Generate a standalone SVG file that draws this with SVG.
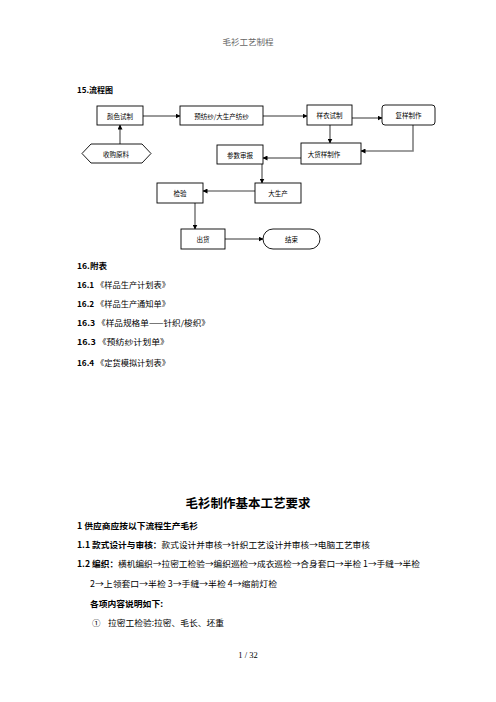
<svg xmlns="http://www.w3.org/2000/svg" width="496" height="702" viewBox="0 0 496 702">
<defs>
<style>
.cjk{font-family:"Noto Sans CJK SC","Noto Sans",sans-serif;fill:#000}
.b{font-weight:bold}
.node{fill:#fff;stroke:#000;stroke-width:0.9}
.nt{font-family:"Noto Sans CJK SC",sans-serif;font-size:6.5px;text-anchor:middle;dominant-baseline:central;fill:#000}
.cb{fill:none;stroke:#000;stroke-width:0.8}
.cg{fill:none;stroke:#7f7f7f;stroke-width:1.6}
</style>
<marker id="ab" viewBox="0 0 10 10" refX="9" refY="5" markerWidth="5" markerHeight="5" markerUnits="userSpaceOnUse" orient="auto"><path d="M0,0L10,5L0,10z" fill="#000"/></marker>
<marker id="ag" viewBox="0 0 10 10" refX="9" refY="5" markerWidth="5" markerHeight="5" markerUnits="userSpaceOnUse" orient="auto"><path d="M0,0L10,5L0,10z" fill="#000"/></marker>
</defs>
<rect width="496" height="702" fill="#fff"/>
<text x="248" y="45" class="cjk" font-size="8.5" text-anchor="middle" style="fill:#666">毛衫工艺制程</text>
<text x="77" y="93" class="cjk b" font-size="8">15.流程图</text>

<g id="connectors">
<path class="cb" d="M143,116H180" marker-end="url(#ab)"/>
<path class="cb" d="M263,116H307" marker-end="url(#ab)"/>
<path class="cb" d="M352,118H382" marker-end="url(#ab)"/>
<path class="cg" d="M330,125V143" marker-end="url(#ag)"/>
<path class="cg" d="M413,125V151H361" marker-end="url(#ag)"/>
<path class="cb" d="M301,158H263" marker-end="url(#ab)"/>
<path class="cb" d="M262,164V183" marker-end="url(#ab)"/>
<path class="cg" d="M120,144V125" marker-end="url(#ag)"/>
<path class="cg" d="M255,191H203" marker-end="url(#ag)"/>
<path class="cg" d="M195,203V229" marker-end="url(#ag)"/>
<path class="cb" d="M225,239H263" marker-end="url(#ab)"/>
</g>

<g id="n1"><rect class="node" x="97" y="106" width="46" height="19"/><text class="nt" x="120" y="115.5">颜色试制</text></g>
<g id="n2"><rect class="node" x="180" y="106" width="83" height="19"/><text class="nt" x="221.5" y="115.5">预纺纱/大生产纺纱</text></g>
<g id="n3"><rect class="node" x="307" y="105" width="45" height="20"/><text class="nt" x="329.5" y="115">样衣试制</text></g>
<g id="n4"><rect class="node" x="382" y="105" width="53" height="20" rx="3"/><text class="nt" x="408.5" y="115">复样制作</text></g>
<g id="n5"><rect class="node" x="301" y="143" width="60" height="21"/><text class="nt" x="324" y="153.5">大货样制作</text></g>
<g id="n6"><rect class="node" x="217" y="145" width="46" height="19"/><text class="nt" x="240" y="154.5">参数审报</text></g>
<g id="n7"><polygon class="node" points="82,153.5 91,144 142,144 151,153.5 142,163 91,163"/><text class="nt" x="116" y="153.5">收购原料</text></g>
<g id="n8"><rect class="node" x="157" y="183" width="46" height="20"/><text class="nt" x="180" y="193">检验</text></g>
<g id="n9"><rect class="node" x="255" y="183" width="46" height="20"/><text class="nt" x="278" y="193">大生产</text></g>
<g id="n10"><rect class="node" x="181" y="229" width="44" height="20"/><text class="nt" x="203" y="239">出货</text></g>
<g id="n11"><rect class="node" x="263" y="229" width="57" height="20" rx="10"/><text class="nt" x="291.5" y="239">结束</text></g>

<g class="cjk" font-size="7.5">
<text x="77" y="269" class="b" font-size="8" textLength="30" lengthAdjust="spacingAndGlyphs">16.附表</text>
<text x="77" y="288" textLength="93" lengthAdjust="spacingAndGlyphs"><tspan class="b">16.1</tspan> 《样品生产计划表》</text>
<text x="77" y="307" textLength="93" lengthAdjust="spacingAndGlyphs"><tspan class="b">16.2</tspan> 《样品生产通知单》</text>
<text x="77" y="326" textLength="133" lengthAdjust="spacingAndGlyphs"><tspan class="b">16.3</tspan> 《样品规格单——针织/梭织》</text>
<text x="77" y="345" textLength="92" lengthAdjust="spacingAndGlyphs"><tspan class="b">16.3</tspan> 《预纺纱计划单》</text>
<text x="77" y="366" textLength="93" lengthAdjust="spacingAndGlyphs"><tspan class="b">16.4</tspan> 《定货模拟计划表》</text>
</g>

<text x="248" y="507.5" class="cjk b" font-size="12.5" text-anchor="middle">毛衫制作基本工艺要求</text>
<g class="cjk" font-size="8.5">
<text x="77" y="528.5" class="b" textLength="121" lengthAdjust="spacingAndGlyphs">1  供应商应按以下流程生产毛衫</text>
<text x="77" y="547.5" textLength="293" lengthAdjust="spacingAndGlyphs"><tspan class="b">1.1 款式设计与审核：</tspan>款式设计并审核→针织工艺设计并审核→电脑工艺审核</text>
<text x="77" y="566.5" textLength="343" lengthAdjust="spacingAndGlyphs"><tspan class="b">1.2 编织：</tspan>横机编织→拉密工检验→编织巡检→成衣巡检→合身套口→半检 1→手缝→半检</text>
<text x="90" y="586.5" textLength="187" lengthAdjust="spacingAndGlyphs">2→上领套口→半检 3→手缝→半检 4→缩前灯检</text>
<text x="90" y="607" class="b" textLength="73" lengthAdjust="spacingAndGlyphs">各项内容说明如下:</text>
<text x="92" y="626">①</text>
<text x="108" y="626" textLength="116" lengthAdjust="spacingAndGlyphs">拉密工检验:拉密、毛长、坯重</text>
</g>
<text x="248" y="658" font-family="Liberation Serif,serif" font-size="8.5" text-anchor="middle">1 / 32</text>
</svg>
